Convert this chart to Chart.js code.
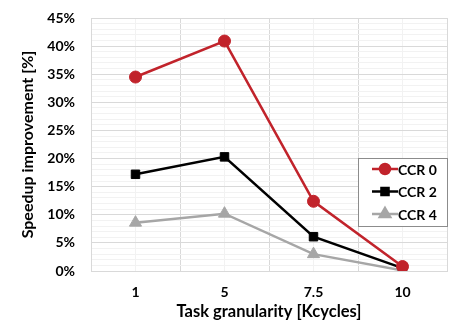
<!DOCTYPE html>
<html>
<head>
<meta charset="utf-8">
<script src="https://cdn.jsdelivr.net/npm/chart.js@4"></script>
<style>
  html, body { margin: 0; padding: 0; background: #fff; }
  #wrap { position: relative; width: 449px; height: 326px; }
</style>
</head>
<body>
<div id="wrap"><canvas id="chart"></canvas></div>
<script>
const categories = ["1", "5", "7.5", "10"];
const ccr0 = [34.5, 40.9, 12.4, 0.8];
const ccr2 = [17.2, 20.3, 6.1, 0.5];
const ccr4 = [8.6, 10.2, 3.0, 0.1];
const yTicks = [0, 5, 10, 15, 20, 25, 30, 35, 40, 45];

const RED = "#C1232B";
const BLACK = "#000000";
const GRAY = "#A6A6A6";
const FONT = "Lato, 'Open Sans', sans-serif";

// x positions 1..4 on a linear scale so minor grid lines can sit at category centres
const toPoints = (vals) => vals.map((v, i) => ({ x: i + 1, y: v }));

const series = [
  { label: "CCR 0", data: ccr0, color: RED, style: "circle", radius: 6 },
  { label: "CCR 2", data: ccr2, color: BLACK, style: "rect", radius: 6 },
  { label: "CCR 4", data: ccr4, color: GRAY, style: "triangle", radius: 7 },
];

// no label overhang, so the plot area sits exactly where the padding puts it
const noOverhang = (axis) => {
  axis.paddingTop = 0;
  axis.paddingBottom = 0;
  axis.paddingLeft = 0;
  axis.paddingRight = 0;
};

// stretch the plot to the right edge, the way the original frame sits
const PLOT_RIGHT = 447;
const stretchRight = {
  id: "stretchRight",
  afterLayout(chart) {
    const x = chart.scales.x;
    x.right = PLOT_RIGHT;
    x.width = x.right - x.left;
    x.configure();
    chart.chartArea.right = PLOT_RIGHT;
    chart.chartArea.width = PLOT_RIGHT - chart.chartArea.left;
    const y = chart.scales.y;
    if (y) y.configure();
  },
};

// legend drawn inside the plot, boxed, like the original
const boxLegend = {
  id: "boxLegend",
  afterDraw(chart) {
    const { ctx } = chart;
    const x = 358, y = 158, w = 89, h = 68;
    ctx.save();
    ctx.fillStyle = "#fff";
    ctx.fillRect(x, y, w, h);
    ctx.strokeStyle = "#8c8c8c";
    ctx.lineWidth = 1;
    ctx.strokeRect(x + 0.5, y + 0.5, w, h);
    series.forEach((s, i) => {
      const cy = y + 11 + i * 22.5;
      ctx.strokeStyle = s.color;
      ctx.lineWidth = 2.5;
      ctx.beginPath();
      ctx.moveTo(x + 14, cy);
      ctx.lineTo(x + 40, cy);
      ctx.stroke();
      Chart.helpers.drawPoint(ctx, {
        pointStyle: s.style, radius: s.radius - 1, rotation: 0, borderWidth: 1,
      }, x + 27, cy);
      ctx.fillStyle = s.color;
      ctx.fill();
      ctx.fillStyle = "#000";
      ctx.font = `bold 14px ${FONT}`;
      ctx.textBaseline = "middle";
      ctx.fillText(s.label, x + 40, cy + 1);
    });
    ctx.restore();
  },
};

new Chart(document.getElementById("chart"), {
  type: "line",
  data: {
    datasets: series.map((s) => ({
      label: s.label,
      data: toPoints(s.data),
      borderColor: s.color,
      backgroundColor: s.color,
      borderWidth: 2.5,
      pointStyle: s.style,
      pointRadius: s.radius,
      pointBorderWidth: 1,
      tension: 0,
    })),
  },
  options: {
    responsive: true,
    maintainAspectRatio: false,
    animation: false,
    layout: { padding: { top: 18, right: 0, left: 0, bottom: 0 } },
    plugins: { legend: { display: false }, tooltip: { enabled: false } },
    scales: {
      x: {
        type: "linear",
        min: 0.5,
        max: 4.5,
        afterBuildTicks: (axis) => {
          axis.ticks = [];
          for (let v = 0.5; v <= 4.5; v += 0.5) axis.ticks.push({ value: v });
        },
        afterFit: (axis) => {
          axis.height = 55;
          noOverhang(axis);
        },
        grid: {
          color: (c) => (c.tick && Number.isInteger(c.tick.value) ? "#f2f2f2" : "#d9d9d9"),
          drawTicks: false,
        },
        border: { color: "#d9d9d9" },
        ticks: {
          padding: 13,
          autoSkip: false,
          maxRotation: 0,
          color: "#000",
          font: { family: FONT, size: 14, weight: "bold" },
          callback: (v) => (Number.isInteger(v) ? categories[v - 1] : ""),
        },
        title: {
          display: true,
          text: "Task granularity [Kcycles]",
          color: "#000",
          font: { family: FONT, size: 16.5, weight: "bold" },
          padding: { top: 2 },
        },
      },
      y: {
        min: 0,
        max: 45,
        afterBuildTicks: (axis) => {
          axis.ticks = [];
          for (let v = 0; v <= 45; v++) axis.ticks.push({ value: v });
        },
        afterFit: (axis) => {
          axis.width = 91;
          noOverhang(axis);
        },
        grid: {
          color: (c) => (c.tick && yTicks.includes(c.tick.value) ? "#d9d9d9" : "#f2f2f2"),
          drawTicks: false,
        },
        border: { color: "#d9d9d9" },
        ticks: {
          padding: 16,
          autoSkip: false,
          color: "#000",
          font: { family: FONT, size: 14, weight: "bold" },
          callback: (v) => (yTicks.includes(v) ? v + "%" : ""),
        },
        title: {
          display: true,
          text: "Speedup improvement [%]",
          color: "#000",
          font: { family: FONT, size: 16, weight: "bold" },
          padding: { top: 18, bottom: 0 },
        },
      },
    },
  },
  plugins: [stretchRight, boxLegend],
});
</script>
</body>
</html>
